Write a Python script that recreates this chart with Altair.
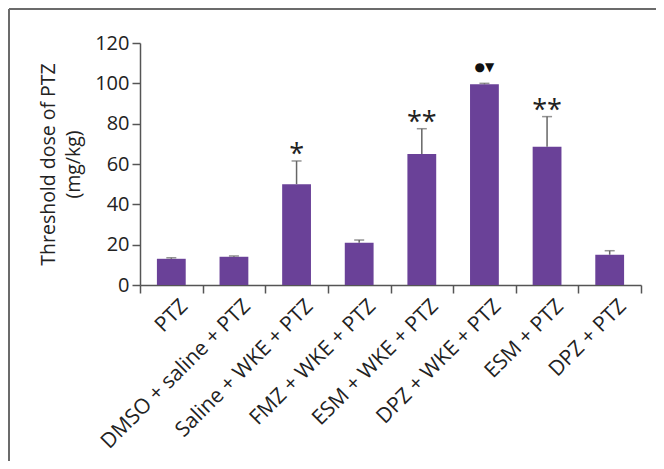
import altair as alt
import pandas as pd

groups = ["PTZ", "DMSO + saline + PTZ", "Saline + WKE + PTZ", "FMZ + WKE + PTZ",
          "ESM + WKE + PTZ", "DPZ + WKE + PTZ", "ESM + PTZ", "DPZ + PTZ"]
means = [13, 14, 50, 21, 65, 99.5, 68.5, 15]
upper = [13.5, 14.4, 61.5, 22.3, 77.5, 100, 83.5, 17]
stars = ["", "", "*", "", "**", "", "**", ""]
symbols = ["", "", "", "", "", "●▼", "", ""]

df = pd.DataFrame({"group": groups, "mean": means, "upper": upper,
                   "star": stars, "sym": symbols})

FONT = "Open Sans"
FS = 20
W, H = 501, 242

x = alt.X("group:N", sort=groups,
          scale=alt.Scale(paddingInner=0, paddingOuter=0),
          axis=alt.Axis(title=None, labelAngle=-45, tickBand="extent",
                        labelPadding=2, labelOffset=5, labelLimit=400,
                        labelFontSize=21))
y = alt.Y("mean:Q", scale=alt.Scale(domain=[0, 120]),
          axis=alt.Axis(values=[0, 20, 40, 60, 80, 100, 120],
                        title=["Threshold dose of PTZ", "(mg/kg)"],
                        titleFontSize=19.5, titleFontWeight="normal",
                        titleLineHeight=25, titlePadding=11,
                        labelFontSize=FS, labelPadding=3))

xs = alt.X("group:N", sort=groups)

bars = alt.Chart(df).mark_bar(color="#6a4198", width=alt.RelativeBandSize(0.46)).encode(x=x, y=y)

err = alt.Chart(df).mark_rule(color="#666666", strokeWidth=1.5).encode(
    x=xs, y="mean:Q", y2="upper:Q")
cap = alt.Chart(df).mark_tick(color="#666666", thickness=1.5, size=10).encode(
    x=xs, y="upper:Q")

star_txt = alt.Chart(df).mark_text(font=FONT, fontSize=27, color="#222222",
                                   baseline="middle", dy=-6).encode(
    x=xs, y="upper:Q", text="star:N")
sym_txt = alt.Chart(df).mark_text(font="DejaVu Sans", fontSize=12, color="#111111",
                                  baseline="middle", dy=-16).encode(
    x=xs, y="upper:Q", text="sym:N")

frame_df = pd.DataFrame({"a": [0]})
left_line = alt.Chart(frame_df).mark_rule(color="#6b6b6b", strokeWidth=2).encode(
    x=alt.value(-131), y=alt.value(-34), y2=alt.value(H + 176))
top_line = alt.Chart(frame_df).mark_rule(color="#6b6b6b", strokeWidth=2).encode(
    x=alt.value(-131), x2=alt.value(W + 15), y=alt.value(-34))

chart = alt.layer(bars, err, cap, star_txt, sym_txt, left_line, top_line).properties(
    width=W, height=H,
    autosize=alt.AutoSizeParams(type="none"),
    padding={"left": 132, "top": 35, "right": 15, "bottom": 176},
).configure_view(stroke=None).configure_axis(
    domainColor="#555555", domainWidth=1.5, tickColor="#555555", tickWidth=1.5,
    tickSize=8, labelColor="#222222", titleColor="#222222",
    labelFont=FONT, titleFont=FONT, grid=False,
)

chart.save("out.html", embed_options={"renderer": "svg", "actions": False})
